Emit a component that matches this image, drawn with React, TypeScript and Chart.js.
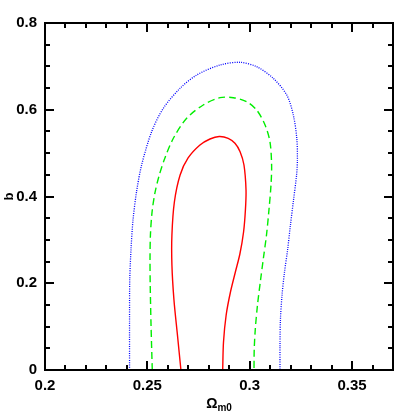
import React, { useEffect, useRef } from "react";
import { Chart, registerables } from "chart.js";

Chart.register(...registerables);

// Axis ticks
const xTicks = [0.2, 0.25, 0.3, 0.35];
const yTicks = [0, 0.2, 0.4, 0.6, 0.8];
const xMinor = [0.21, 0.22, 0.23, 0.24, 0.25, 0.26, 0.27, 0.28, 0.29, 0.3, 0.31, 0.32, 0.33, 0.34, 0.35, 0.36];
const yMinor = [0.05, 0.1, 0.15, 0.2, 0.25, 0.3, 0.35, 0.4, 0.45, 0.5, 0.55, 0.6, 0.65, 0.7, 0.75];

// Inner contour (red, solid)
const om1 = [0.2664, 0.2647, 0.263, 0.262, 0.262, 0.2632, 0.266, 0.2699, 0.2757, 0.2806, 0.2851, 0.2895, 0.2928, 0.2953, 0.2972, 0.2982, 0.2979, 0.297, 0.2952, 0.293, 0.2906, 0.2885, 0.2872, 0.2868];
const b1 = [0, 0.0807, 0.1614, 0.2421, 0.3112, 0.3873, 0.4496, 0.4888, 0.5187, 0.5326, 0.5383, 0.5342, 0.5227, 0.5033, 0.4726, 0.415, 0.3689, 0.3182, 0.2674, 0.2259, 0.1798, 0.1268, 0.0646, 0];

// Middle contour (green, dashed)
const om2 = [0.2524, 0.2518, 0.2514, 0.2513, 0.2515, 0.2523, 0.2537, 0.2557, 0.2584, 0.2627, 0.2692, 0.2773, 0.2855, 0.292, 0.2985, 0.3034, 0.3075, 0.3099, 0.3107, 0.3104, 0.3094, 0.3082, 0.3067, 0.3053, 0.3038, 0.3027, 0.3022, 0.3021];
const b2 = [0, 0.1037, 0.196, 0.2536, 0.3112, 0.3643, 0.4081, 0.4473, 0.4865, 0.5342, 0.5803, 0.611, 0.6278, 0.6278, 0.6186, 0.5994, 0.5648, 0.5263, 0.4726, 0.4265, 0.3689, 0.3112, 0.2582, 0.2075, 0.1499, 0.0922, 0.0461, 0];

// Outer contour (blue, dotted)
const om3 = [0.2413, 0.2413, 0.2414, 0.242, 0.243, 0.2447, 0.2472, 0.2521, 0.2578, 0.266, 0.2741, 0.2855, 0.2953, 0.3034, 0.3115, 0.3181, 0.3213, 0.323, 0.3233, 0.3229, 0.3214, 0.3199, 0.3185, 0.317, 0.3158, 0.315, 0.3148, 0.3148];
const b3 = [0, 0.1153, 0.2075, 0.2767, 0.3458, 0.4104, 0.4726, 0.5494, 0.6034, 0.6495, 0.6801, 0.7032, 0.7094, 0.6993, 0.6725, 0.634, 0.5879, 0.5342, 0.4842, 0.4496, 0.3919, 0.3343, 0.2767, 0.2259, 0.1729, 0.1153, 0.0576, 0];

const toPts = (xs: number[], ys: number[]) => xs.map((x, i) => ({ x, y: ys[i] }));
const fmt = (v: number) => String(Number(v.toFixed(2)));
const FAMILY = "'Liberation Sans', Arial, sans-serif";

export default function App() {
  const ref = useRef<HTMLCanvasElement>(null);

  useEffect(() => {
    const frame = {
      id: "frame",
      afterDraw(chart: any) {
        const ctx: CanvasRenderingContext2D = chart.ctx;
        const ca = chart.chartArea;
        const xs = chart.scales["x"];
        const ys = chart.scales["y"];
        const left = Math.round(ca.left), right = Math.round(ca.right);
        const top = Math.round(ca.top), bottom = Math.round(ca.bottom);
        ctx.save();
        ctx.setLineDash([]);
        ctx.globalAlpha = 1;
        ctx.fillStyle = "#000000";
        // frame (2px)
        ctx.fillRect(left - 1, top - 1, right - left + 2, 2);
        ctx.fillRect(left - 1, bottom - 1, right - left + 2, 2);
        ctx.fillRect(left - 1, top - 1, 2, bottom - top + 2);
        ctx.fillRect(right - 1, top - 1, 2, bottom - top + 2);
        // ticks
        xMinor.forEach((v) => {
          const major = xTicks.some((t) => Math.abs(t - v) < 1e-6);
          const len = major ? 9 : 5;
          const px = Math.round(xs.getPixelForValue(v));
          ctx.fillRect(px - 1, bottom - len, 2, len);
          ctx.fillRect(px - 1, top, 2, len);
        });
        yMinor.forEach((v) => {
          const major = yTicks.some((t) => Math.abs(t - v) < 1e-6);
          const len = major ? 9 : 5;
          const py = Math.round(ys.getPixelForValue(v));
          ctx.fillRect(left, py - 1, len, 2);
          ctx.fillRect(right - len, py - 1, len, 2);
        });

        // x title: Omega with subscript m0
        const cx = (left + right) / 2;
        ctx.textBaseline = "alphabetic";
        ctx.textAlign = "left";
        ctx.font = "bold 14px " + FAMILY;
        const wO = ctx.measureText("\u03A9").width;
        ctx.font = "bold 10px " + FAMILY;
        const wS = ctx.measureText("m0").width;
        const x0 = cx - (wO + wS) / 2;
        ctx.font = "bold 14px " + FAMILY;
        ctx.fillText("\u03A9", x0, 408);
        ctx.font = "bold 10px " + FAMILY;
        ctx.fillText("m0", x0 + wO, 411);

        // y title
        ctx.save();
        ctx.translate(9, (top + bottom) / 2);
        ctx.rotate(-Math.PI / 2);
        ctx.textAlign = "center";
        ctx.textBaseline = "middle";
        ctx.font = "bold 13px " + FAMILY;
        ctx.fillText("b", 0, 0);
        ctx.restore();
        ctx.restore();
      },
    };

    const tickFont = { family: FAMILY, size: 15, weight: "bold" as const };

    const chart = new Chart(ref.current as HTMLCanvasElement, {
      type: "scatter",
      data: {
        datasets: [
          {
            data: toPts(om3, b3),
            showLine: true,
            borderColor: "#0000ff",
            borderWidth: 1.3,
            borderDash: [1, 1.3],
            pointRadius: 0,
            tension: 0.3,
            fill: false,
          },
          {
            data: toPts(om2, b2),
            showLine: true,
            borderColor: "#00ee00",
            borderWidth: 1.4,
            borderDash: [7, 4],
            pointRadius: 0,
            tension: 0.3,
            fill: false,
          },
          {
            data: toPts(om1, b1),
            showLine: true,
            borderColor: "#ff0000",
            borderWidth: 1.4,
            pointRadius: 0,
            tension: 0.3,
            fill: false,
          },
        ],
      },
      options: {
        responsive: false,
        animation: false,
        events: [],
        layout: { padding: { top: 23, right: 22, left: 0, bottom: 0 } },
        plugins: { legend: { display: false }, tooltip: { enabled: false } },
        scales: {
          x: {
            type: "linear",
            min: 0.2,
            max: 0.37,
            grid: { display: false, drawTicks: false },
            border: { display: false },
            afterBuildTicks: (s: any) => {
              s.ticks = xTicks.map((v) => ({ value: v }));
            },
            afterFit: (s: any) => {
              s.height = 45;
            },
            ticks: {
              color: "#000",
              font: tickFont,
              padding: 7,
              maxRotation: 0,
              autoSkip: false,
              callback: (v: any) => fmt(Number(v)),
            },
          },
          y: {
            type: "linear",
            min: 0,
            max: 0.8,
            grid: { display: false, drawTicks: false },
            border: { display: false },
            afterBuildTicks: (s: any) => {
              s.ticks = yTicks.map((v) => ({ value: v }));
            },
            afterFit: (s: any) => {
              s.width = 45;
            },
            ticks: {
              color: "#000",
              font: tickFont,
              padding: 8,
              autoSkip: false,
              callback: (v: any) => fmt(Number(v)),
            },
          },
        },
      },
      plugins: [frame],
    } as any);

    return () => chart.destroy();
  }, []);

  return (
    <div style={{ position: "fixed", left: 0, top: 0, width: 415, height: 415, background: "#fff" }}>
      <canvas ref={ref} width={415} height={415} style={{ width: 415, height: 415 }} />
    </div>
  );
}
